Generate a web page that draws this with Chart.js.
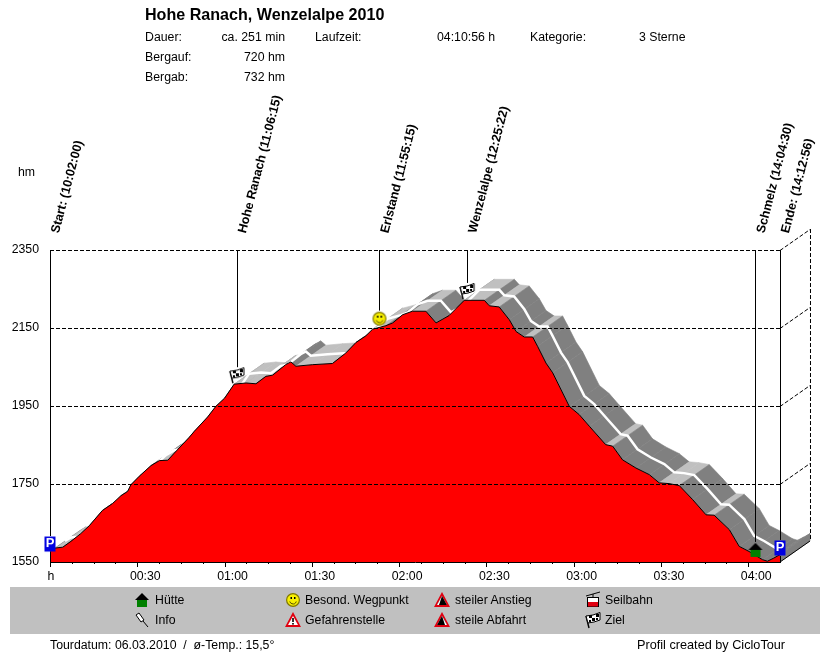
<!DOCTYPE html>
<html>
<head>
<meta charset="utf-8">
<title>Hohe Ranach, Wenzelalpe 2010</title>
<script src="https://cdn.jsdelivr.net/npm/chart.js@4"></script>
<style>
  html, body { margin: 0; padding: 0; background: #fff; }
  body { width: 830px; height: 652px; position: relative; overflow: hidden; font: 12.3px "Liberation Sans", Arial, sans-serif; color: #000; }
  #profile { position: absolute; left: 0; top: 0; z-index: 2; }
  #band { position: absolute; left: 10px; top: 587px; width: 810px; height: 47px; background: #c0c0c0; }
  .t { position: absolute; white-space: pre; line-height: 14px; z-index: 3; }
  .r { text-align: right; }
  .b { font-weight: bold; font-size: 16.1px; line-height: 18px; }
  .ic { position: absolute; z-index: 3; }
</style>
</head>
<body>
<div id="band"></div>
<canvas id="profile" width="830" height="652"></canvas>
<div class="t b" style="left:145px;top:5px">Hohe Ranach, Wenzelalpe 2010</div>
<div class="t" style="left:145px;top:30px">Dauer:</div>
<div class="t r" style="left:185px;width:100px;top:30px">ca. 251 min</div>
<div class="t" style="left:315px;top:30px">Laufzeit:</div>
<div class="t" style="left:437px;top:30px">04:10:56 h</div>
<div class="t" style="left:530px;top:30px">Kategorie:</div>
<div class="t" style="left:639px;top:30px">3 Sterne</div>
<div class="t" style="left:145px;top:50px">Bergauf:</div>
<div class="t r" style="left:185px;width:100px;top:50px">720 hm</div>
<div class="t" style="left:145px;top:70px">Bergab:</div>
<div class="t r" style="left:185px;width:100px;top:70px">732 hm</div>
<div class="t" style="left:18px;top:165px">hm</div>
<div class="t" style="left:50px;top:638px">Tourdatum: 06.03.2010  /  ø-Temp.: 15,5°</div>
<div class="t" style="left:637px;top:638px;font-size:12.7px">Profil created by CicloTour</div>
<script>
// elevation profile (minutes since start / hm)
const profileMin = [0, 2, 4.4, 7.2, 10.6, 13.5, 18, 21.5, 24.4, 26.7, 27.8, 30.7, 34.7, 37.6, 40.5, 42.7, 47.9, 49.6, 54.2, 57, 60, 63.3, 67.4, 70.8, 74.2, 76.5, 81, 82.8, 84.5, 90.3, 97.1, 101.7, 105.2, 108.6, 110.9, 115.5, 117.8, 121.2, 124.6, 129.2, 132.7, 137.2, 142.4, 149.3, 151, 154.4, 157.9, 160.2, 163, 165.9, 167.6, 170.5, 172.8, 178.5, 181.9, 185.4, 191, 193.4, 196.8, 201.4, 206, 209.4, 212.8, 216.3, 220.9, 225.5, 228.3, 233.5, 236.9, 240.3, 244.9, 246.6, 248.8, 250.93];
const profileHm = [1577, 1586, 1588, 1603, 1623, 1643, 1682, 1700, 1720, 1731, 1748, 1770, 1797, 1810, 1811, 1829, 1870, 1885, 1922, 1949, 1970, 2006, 2009, 2007, 2026, 2029, 2056, 2063, 2052, 2056, 2059, 2086, 2113, 2130, 2147, 2156, 2163, 2184, 2193, 2193, 2163, 2182, 2221, 2221, 2207, 2204, 2171, 2141, 2127, 2127, 2103, 2060, 2035, 1949, 1928, 1898, 1851, 1847, 1812, 1791, 1774, 1753, 1751, 1746, 1710, 1671, 1670, 1633, 1590, 1577, 1556, 1552, 1560, 1569];

// waypoints along the tour
const eventMin = [0, 64.25, 113.25, 143.37, 242.5, 250.93];
const eventLabel = ['Start: (10:02:00)', 'Hohe Ranach (11:06:15)', 'Erlstand (11:55:15)', 'Wenzelalpe (12:25:22)', 'Schmelz (14:04:30)', 'Ende: (14:12:56)'];
const eventIcon = ['parking', 'flag', 'smile', 'flag', 'hut', 'parking'];
const eventIconHm = [1596, 2029, 2174, 2245, 1581, 1586];
const eventLineEnd = [1550, 2029, 2174, 2245, 1581, 1550];

const yTicks = [1550, 1750, 1950, 2150, 2350];

// legend entries
const legendText = ['Hütte', 'Info', 'Besond. Wegpunkt', 'Gefahrenstelle', 'steiler Anstieg', 'steile Abfahrt', 'Seilbahn', 'Ziel'];
const legendIcon = ['hut', 'pin', 'smile', 'warn', 'up', 'down', 'cable', 'flag'];
const legendIconX = [142, 142, 293, 293, 442, 442, 593, 593];
const legendTextX = [155, 155, 305, 305, 455, 455, 605, 605];
const legendY = [600, 620, 600, 620, 600, 620, 600, 620];

// depth of the 3D road band, in axis units
const depthMin = 10.31;
const depthHm = 53.8;
const maxMin = 250.93;

Chart.defaults.font.family = '"Liberation Sans", Arial, sans-serif';
Chart.defaults.font.size = 12.3;
Chart.defaults.color = '#000';

function makeIcon(kind) {
  const c = document.createElement('canvas');
  c.width = 18; c.height = 18;
  const g = c.getContext('2d');
  const tri = (x1, y1, x2, y2, x3, y3, col) => {
    g.fillStyle = col;
    g.beginPath(); g.moveTo(x1, y1); g.lineTo(x2, y2); g.lineTo(x3, y3); g.closePath(); g.fill();
  };
  if (kind === 'parking') {
    g.fillStyle = '#0000e0';
    g.fillRect(3.5, 1.5, 11, 15);
    g.fillStyle = '#fff';
    g.font = 'bold 13px "Liberation Sans"';
    g.textAlign = 'center'; g.textBaseline = 'middle';
    g.fillText('P', 9, 8.5);
  } else if (kind === 'hut') {
    g.fillStyle = '#008000';
    g.fillRect(4, 9, 10, 7);
    tri(9, 2, 2, 9, 16, 9, '#000');
  } else if (kind === 'smile') {
    g.fillStyle = '#f8f000'; g.strokeStyle = '#807800'; g.lineWidth = 1.2;
    g.beginPath(); g.arc(9, 9, 6.4, 0, Math.PI * 2); g.fill(); g.stroke();
    g.fillStyle = '#000';
    g.fillRect(6.5, 6, 1.5, 2); g.fillRect(10, 6, 1.5, 2);
    g.strokeStyle = '#504800'; g.lineWidth = 1;
    g.beginPath(); g.arc(9, 9.5, 3.4, 0.3, Math.PI - 0.3); g.stroke();
  } else if (kind === 'flag') {
    g.strokeStyle = '#000'; g.lineWidth = 1.4;
    g.beginPath(); g.moveTo(5, 17); g.lineTo(2, 5); g.stroke();
    g.lineWidth = 1;
    g.fillStyle = '#fff';
    g.beginPath(); g.moveTo(2, 5); g.lineTo(9, 4); g.lineTo(16, 1.5); g.lineTo(16, 9); g.lineTo(10, 11); g.lineTo(4, 12); g.closePath(); g.fill(); g.stroke();
    g.fillStyle = '#000';
    g.fillRect(5, 4, 3, 3); g.fillRect(8, 7, 3, 3); g.fillRect(12, 3, 3, 3); g.fillRect(5, 9, 2, 2); g.fillRect(12, 7, 2, 2);
  } else if (kind === 'warn' || kind === 'up' || kind === 'down') {
    tri(9, 1, 1, 16, 17, 16, '#e00010');
    tri(9, 5, 4, 14, 14, 14, '#fff');
    if (kind === 'warn') {
      g.fillStyle = '#000';
      g.fillRect(8.2, 7, 1.6, 4); g.fillRect(8.2, 12, 1.6, 1.6);
    } else if (kind === 'up') {
      tri(9, 5, 4, 14, 14, 14, '#000');
      tri(9, 5, 4, 14, 6, 14, '#fff');
    } else {
      tri(9, 5, 4, 14, 14, 14, '#000');
      tri(9, 5, 14, 14, 12, 14, '#fff');
    }
  } else if (kind === 'cable') {
    g.strokeStyle = '#000'; g.lineWidth = 1;
    g.beginPath(); g.moveTo(2, 5); g.lineTo(16, 1); g.moveTo(9, 3); g.lineTo(9, 6); g.stroke();
    g.fillStyle = '#fff'; g.fillRect(3.5, 6.5, 11, 5); g.strokeRect(3.5, 6.5, 11, 9);
    g.fillStyle = '#e00010'; g.fillRect(4, 11, 10, 4.5);
  } else if (kind === 'pin') {
    g.strokeStyle = '#000'; g.lineWidth = 1; g.fillStyle = '#fff';
    g.beginPath(); g.moveTo(3, 4); g.lineTo(6, 2); g.lineTo(11, 9); g.lineTo(8, 11); g.closePath(); g.fill(); g.stroke();
    g.beginPath(); g.moveTo(10, 10); g.lineTo(15, 16); g.stroke();
  }
  return c;
}

// legend rows: text in the page, icons as small canvases
legendText.forEach((txt, i) => {
  const d = document.createElement('div');
  d.className = 't';
  d.textContent = txt;
  d.style.left = legendTextX[i] + 'px';
  d.style.top = (legendY[i] - 7) + 'px';
  document.body.appendChild(d);
  const ic = makeIcon(legendIcon[i]);
  ic.className = 'ic';
  ic.style.left = (legendIconX[i] - 9) + 'px';
  ic.style.top = (legendY[i] - 9) + 'px';
  document.body.appendChild(ic);
});

const profileData = profileMin.map((m, i) => ({x: m, y: profileHm[i]}));
const centreData = profileMin.map((m, i) => ({x: m + depthMin / 2, y: profileHm[i] + depthHm / 2}));
const eventPoints = eventMin.map((m, i) => ({x: m, y: eventIconHm[i]}));

// gray road band behind the red profile, thin waypoint lines on top
const roadBand = {
  id: 'roadBand',
  beforeDatasetsDraw(chart) {
    const {ctx, scales: {x, y}} = chart;
    const quad = (m1, h1, m2, h2, col) => {
      ctx.fillStyle = col; ctx.strokeStyle = col; ctx.lineWidth = 0.6;
      ctx.beginPath();
      ctx.moveTo(x.getPixelForValue(m1), y.getPixelForValue(h1));
      ctx.lineTo(x.getPixelForValue(m2), y.getPixelForValue(h2));
      ctx.lineTo(x.getPixelForValue(m2 + depthMin), y.getPixelForValue(h2 + depthHm));
      ctx.lineTo(x.getPixelForValue(m1 + depthMin), y.getPixelForValue(h1 + depthHm));
      ctx.closePath(); ctx.fill(); ctx.stroke();
    };
    ctx.save();
    for (let i = 0; i < profileMin.length - 1; i++) {
      const slope = Math.abs(profileHm[i + 1] - profileHm[i]) / (profileMin[i + 1] - profileMin[i]);
      quad(profileMin[i], profileHm[i], profileMin[i + 1], profileHm[i + 1], slope < 2 ? '#c0c0c0' : '#808080');
    }
    // end cap down to the floor
    const last = profileMin.length - 1;
    quad(profileMin[last], 1550, profileMin[last], profileHm[last], '#808080');
    ctx.restore();
  },
  afterDatasetsDraw(chart) {
    const {ctx, scales: {x, y}} = chart;
    const top = y.getPixelForValue(2350);
    ctx.save();
    ctx.strokeStyle = '#000';
    ctx.lineWidth = 1;
    eventMin.forEach((m, i) => {
      const px = Math.round(x.getPixelForValue(m)) + 0.5;
      const iconTop = y.getPixelForValue(eventIconHm[i]) - 8;
      const iconBottom = iconTop + 16;
      const end = y.getPixelForValue(eventLineEnd[i]);
      ctx.beginPath();
      ctx.moveTo(px, top);
      ctx.lineTo(px, Math.min(iconTop, end));
      if (end > iconBottom) {
        // axis lines carry on below the parking sign
        ctx.moveTo(px, iconBottom);
        ctx.lineTo(px, end);
      }
      ctx.stroke();
    });
    ctx.restore();
  }
};

// 3D frame, axis ticks and the slanted waypoint labels
const frame = {
  id: 'frame',
  afterDraw(chart) {
    const {ctx, scales: {x, y}} = chart;
    const dx = x.getPixelForValue(depthMin) - x.getPixelForValue(0);
    const dy = y.getPixelForValue(1550) - y.getPixelForValue(1550 + depthHm);
    const right = x.getPixelForValue(maxMin);
    ctx.save();
    ctx.strokeStyle = '#000';
    ctx.lineWidth = 1;
    ctx.setLineDash([4, 2]);
    yTicks.forEach(v => {
      if (v === 1550) return;
      const py = Math.round(y.getPixelForValue(v)) + 0.5;
      ctx.beginPath(); ctx.moveTo(right, py); ctx.lineTo(right + dx, py - dy); ctx.stroke();
    });
    ctx.beginPath();
    ctx.moveTo(right + dx + 0.5, y.getPixelForValue(2350) - dy);
    ctx.lineTo(right + dx + 0.5, y.getPixelForValue(1550) - dy);
    ctx.stroke();
    ctx.setLineDash([]);
    ctx.beginPath();
    ctx.moveTo(right, y.getPixelForValue(1550)); ctx.lineTo(right + dx, y.getPixelForValue(1550) - dy);
    ctx.stroke();

    const bottom = Math.round(y.getPixelForValue(1550));
    x.ticks.forEach(t => {
      if (t.value >= maxMin) return;
      const px = Math.round(x.getPixelForValue(t.value)) + 0.5;
      ctx.beginPath(); ctx.moveTo(px, bottom); ctx.lineTo(px, bottom + (t.value % 30 === 0 ? 5 : 2)); ctx.stroke();
    });

    ctx.fillStyle = '#000';
    ctx.font = '12.3px "Liberation Sans"';
    ctx.textAlign = 'center';
    ctx.textBaseline = 'middle';
    ctx.fillText('h', x.getPixelForValue(0) + 1, 577);

    ctx.font = 'bold 12.6px "Liberation Sans"';
    ctx.textAlign = 'left';
    eventMin.forEach((m, i) => {
      ctx.save();
      ctx.translate(x.getPixelForValue(m) + 5.5, 233);
      ctx.rotate(-75.5 * Math.PI / 180);
      ctx.fillText(eventLabel[i], 0, 0);
      ctx.restore();
    });
    ctx.restore();
  }
};

new Chart(document.getElementById('profile'), {
  type: 'line',
  data: {
    datasets: [
      {
        label: 'Wegpunkte',
        data: eventPoints,
        showLine: false,
        pointStyle: eventIcon.map(makeIcon),
        clip: false,
        order: 0
      },
      {
        label: 'Höhe',
        data: profileData,
        borderColor: '#000',
        borderWidth: 1,
        backgroundColor: '#ff0000',
        fill: 'origin',
        pointRadius: 0,
        tension: 0,
        order: 2
      },
      {
        label: 'Weg',
        data: centreData,
        borderColor: '#fff',
        borderWidth: 2.5,
        pointRadius: 0,
        tension: 0,
        clip: false,
        order: 3
      }
    ]
  },
  plugins: [roadBand, frame],
  options: {
    responsive: false,
    animation: false,
    events: [],
    layout: { padding: { left: 0, top: 250, right: 50, bottom: 0 } },
    plugins: {
      legend: { display: false },
      title: { display: false },
      tooltip: { enabled: false }
    },
    scales: {
      x: {
        type: 'linear',
        min: 0,
        max: maxMin,
        afterFit: s => { s.height = 90; },
        grid: { display: false, tickLength: 0 },
        border: { color: '#000' },
        ticks: {
          stepSize: 7.5,
          autoSkip: false,
          maxRotation: 0,
          padding: 7,
          labelOffset: 8,
          callback: function(v) {
            if (v === 0 || v % 30 !== 0) return '';
            const h = Math.floor(v / 60);
            const mm = v % 60;
            return '0' + h + ':' + (mm < 10 ? '0' : '') + mm;
          }
        }
      },
      y: {
        min: 1550,
        max: 2350,
        afterFit: s => { s.width = 50; },
        afterBuildTicks: s => { s.ticks = yTicks.map(v => ({value: v})); },
        grid: { color: '#000', lineWidth: 1, z: 1, drawTicks: false },
        border: { display: false, dash: [4, 2] },
        ticks: { padding: 11, callback: v => String(v) }
      }
    }
  }
});
</script>
</body>
</html>
